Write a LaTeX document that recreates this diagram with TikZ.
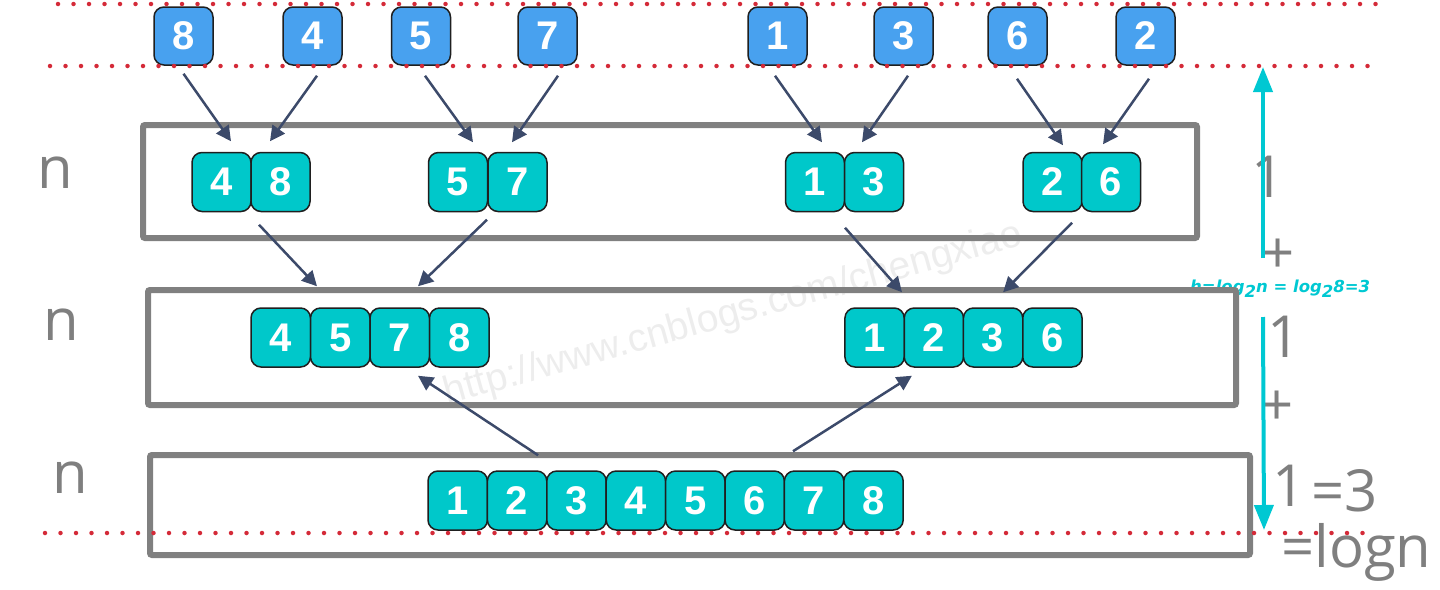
\documentclass[tikz,border=0pt]{standalone}
\usepackage{fontspec}
\setmainfont{Liberation Sans}
\newfontfamily\labelfont{Open Sans}
\newfontfamily\formfont{DejaVu Sans}
\usetikzlibrary{arrows.meta,calc}
\definecolor{boxblue}{HTML}{48A1EF}
\definecolor{boxteal}{HTML}{00C8CA}
\definecolor{arrowdark}{HTML}{3C4A6A}
\definecolor{framegray}{HTML}{808080}
\definecolor{dotred}{HTML}{D42A38}
\definecolor{cyanarrow}{HTML}{00C8D2}
\definecolor{labelgray}{HTML}{7F7F7F}
\definecolor{wmgray}{HTML}{EDEDED}
\begin{document}
\begin{tikzpicture}[x=1pt,y=-1pt,
  numbox/.style={rectangle, rounded corners=10pt, draw=black!88, line width=1.5pt, inner sep=0pt, text=white, font=\bfseries\fontsize{40}{40}\selectfont, minimum height=59pt},
  topbox/.style={numbox, fill=boxblue, minimum width=59pt, minimum height=58pt},
  tealbox/.style={numbox, fill=boxteal, minimum width=59pt},
  levelframe/.style={draw=framegray, line width=6pt, rounded corners=2pt, inner sep=0pt},
  mergearrow/.style={draw=arrowdark, line width=2.5pt, -{Triangle[width=15pt,length=15pt]}},
  levelarrow/.style={draw=cyanarrow, line width=4pt, -{Triangle[width=19pt,length=25pt]}},
  reddots/.style={draw=dotred, line width=4.5pt, line cap=round, dash pattern=on 0pt off 15.5pt},
  glabel/.style={text=labelgray, font=\labelfont\fontsize{58}{58}\selectfont, inner sep=0pt, anchor=base west}
]
\useasboundingbox (0,0) rectangle (1440,589);

% watermark
\node[rotate=15.5, text=wmgray, font=\fontsize{39}{39}\selectfont, inner sep=0pt] (wm) at (733,315) {http://www.cnblogs.com/chengxiao};

% formula
\node[anchor=base west, inner sep=0pt, text=cyanarrow, font=\formfont\bfseries\itshape\fontsize{16.5}{16.5}\selectfont] (hform) at (1190,292) {h=log\raisebox{-5pt}{2}n = log\raisebox{-5pt}{2}8=3};

% level frames
\node[levelframe, minimum width=1054pt, minimum height=113pt] (r1) at (670,181.5) {};
\node[levelframe, minimum width=1088pt, minimum height=115pt] (r2) at (692,347.5) {};
\node[levelframe, minimum width=1100pt, minimum height=100pt] (r3) at (700,505) {};

% top row
\node[topbox] (t8) at (183.5,36) {8};
\node[topbox] (t4) at (312.5,36) {4};
\node[topbox] (t5) at (421,36) {5};
\node[topbox] (t7) at (547.5,36) {7};
\node[topbox] (t1) at (777.5,36) {1};
\node[topbox] (t3) at (903.5,36) {3};
\node[topbox] (t6) at (1017.5,36) {6};
\node[topbox] (t2) at (1145.5,36) {2};

% level 1
\node[tealbox] (a4) at (221.5,182) {4};
\node[tealbox] (a8) at (280.5,182) {8};
\node[tealbox] (a5) at (458,182) {5};
\node[tealbox] (a7) at (517.5,182) {7};
\node[tealbox] (a1) at (815,182) {1};
\node[tealbox] (a3) at (874,182) {3};
\node[tealbox] (a2) at (1052.5,182) {2};
\node[tealbox] (a6) at (1111,182) {6};

% level 2
\node[tealbox, minimum width=59.5pt] (b4) at (280.75,337.5) {4};
\node[tealbox, minimum width=59.5pt] (b5) at (340.25,337.5) {5};
\node[tealbox, minimum width=59.5pt] (b7) at (399.75,337.5) {7};
\node[tealbox, minimum width=59.5pt] (b8) at (459.25,337.5) {8};
\node[tealbox, minimum width=59.3pt] (b1) at (874.6,337.5) {1};
\node[tealbox, minimum width=59.3pt] (b2) at (933.9,337.5) {2};
\node[tealbox, minimum width=59.3pt] (b3) at (993.1,337.5) {3};
\node[tealbox, minimum width=59.3pt] (b6) at (1052.4,337.5) {6};

% level 3
\foreach \v [count=\i from 0] in {1,...,8}
  \node[tealbox, minimum width=59.4pt] (c\v) at ({457.7+59.4*\i},500.5) {\v};

% arrows top -> level 1
\draw[mergearrow] ([shift={(0,8)}]t8.south) -- ([shift={(9.5,-10.5)}]a4.north);
\draw[mergearrow] ([shift={(4.5,10)}]t4.south) -- ([shift={(-10.5,-10.5)}]a8.north);
\draw[mergearrow] ([shift={(4,10)}]t5.south) -- ([shift={(15,-9.5)}]a5.north);
\draw[mergearrow] ([shift={(10.5,10)}]t7.south) -- ([shift={(-5.5,-9.5)}]a7.north);
\draw[mergearrow] ([shift={(-2.5,10)}]t1.south) -- ([shift={(7,-9.5)}]a1.north);
\draw[mergearrow] ([shift={(4.5,10)}]t3.south) -- ([shift={(-12,-9.5)}]a3.north);
\draw[mergearrow] ([shift={(-0.5,13)}]t6.south) -- ([shift={(10.5,-6.5)}]a2.north);
\draw[mergearrow] ([shift={(3.5,13)}]t2.south) -- ([shift={(-8,-7.5)}]a6.north);

% arrows level 1 -> level 2
\draw[mergearrow] ([shift={(-21.5,12.5)}]a8.south) -- ([shift={(-23.25,-21)}]b5.north);
\draw[mergearrow] ([shift={(-30.5,7.5)}]a7.south) -- ([shift={(18.25,-21)}]b7.north);
\draw[mergearrow] ([shift={(-29,15.5)}]a3.south) -- ([shift={(27.4,-15)}]b1.north);
\draw[mergearrow] ([shift={(19.5,10.5)}]a2.south) -- ([shift={(10,-15)}]b3.north);

% arrows level 3 -> level 2
\draw[mergearrow] ([shift={(21,-15)}]c2.north) -- ([shift={(18.25,8)}]b7.south);
\draw[mergearrow] ([shift={(38.3,-19)}]c6.north) -- ([shift={(-22,8)}]b2.south);

% left labels
\node[glabel] (n1) at (37,188) {n};
\node[glabel] (n2) at (43,340) {n};
\node[glabel] (n3) at (52,493) {n};

% right labels
\node[glabel] (one1) at (1251,197) {1};
\node[glabel, anchor=center] (plus1) at (1278,256) {+};
\node[glabel] (one2) at (1267,357) {1};
\node[glabel, anchor=center] (plus2) at (1277,408) {+};
\node[glabel] (one3) at (1272,506) {1};
\node[glabel] (eq3) at (1311,511) {=3};
\node[glabel] (eqlog) at (1281,567) {=logn};

% height arrows
\coordinate (h1s) at (1263,258);
\coordinate (h1e) at (1263,67);
\coordinate (h2s) at (1263,317);
\coordinate (h2e) at (1264,530);
\draw[levelarrow] (h1s) -- (h1e);
\draw[levelarrow] (h2s) -- (h2e);

% red dotted lines
\coordinate (d1a) at (58,4);   \coordinate (d1b) at (1378,4);
\coordinate (d2a) at (50,66);  \coordinate (d2b) at (1370,66);
\coordinate (d3a) at (45,533); \coordinate (d3b) at (1365,533);
\draw[reddots] (d1a) -- (d1b);
\draw[reddots] (d2a) -- (d2b);
\draw[reddots] (d3a) -- (d3b);
\end{tikzpicture}
\end{document}
